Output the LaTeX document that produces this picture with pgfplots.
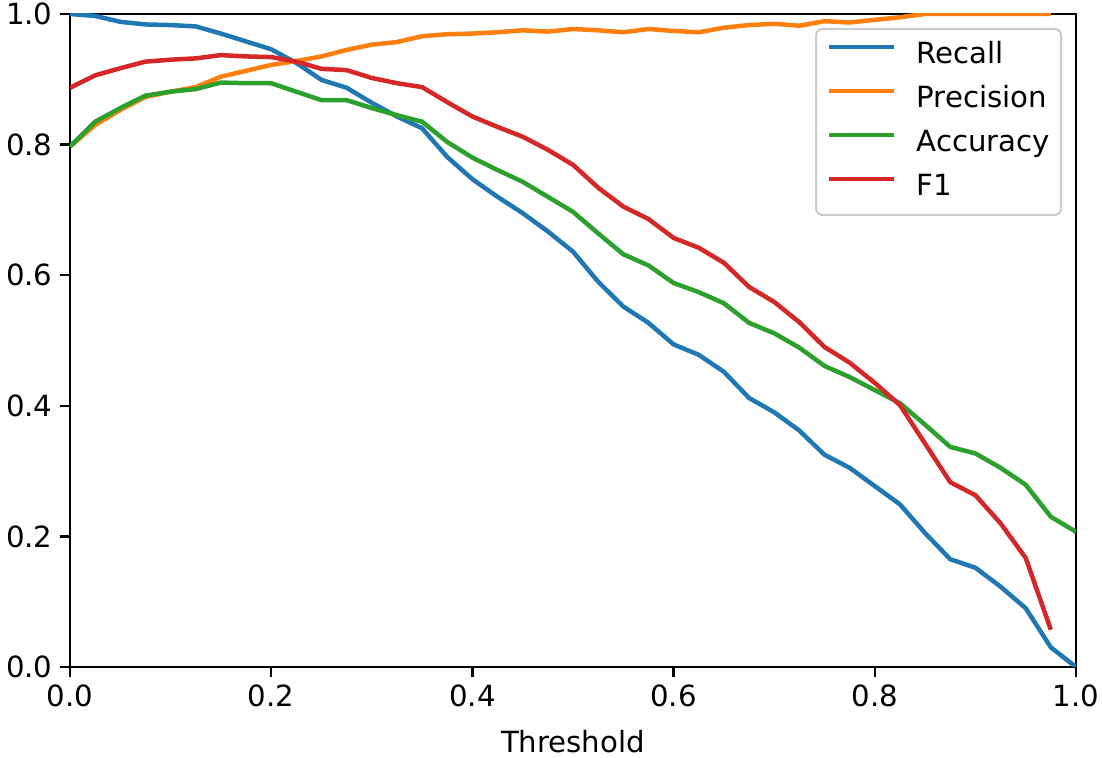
\documentclass[border=0pt]{standalone}
\usepackage{fontspec}
\setmainfont{DejaVu Sans}
\usepackage{pgfplots}
\pgfplotsset{compat=1.18}
\definecolor{tabblue}{HTML}{1F77B4}
\definecolor{taborange}{HTML}{FF7F0E}
\definecolor{tabgreen}{HTML}{2CA02C}
\definecolor{tabred}{HTML}{D62728}
\newcommand{\fs}{\fontsize{14.6}{17.5}\selectfont}
\begin{document}
\begin{tikzpicture}
\begin{axis}[
  scale only axis,
  width=503pt, height=326.5pt,
  xmin=0, xmax=1, ymin=0, ymax=1,
  xtick={0,0.2,0.4,0.6,0.8,1.0},
  ytick={0,0.2,0.4,0.6,0.8,1.0},
  /pgf/number format/assume math mode=true,
  xticklabel style={/pgf/number format/fixed,/pgf/number format/fixed zerofill,/pgf/number format/precision=1},
  yticklabel style={/pgf/number format/fixed,/pgf/number format/fixed zerofill,/pgf/number format/precision=1},
  tick label style={font=\fs},
  label style={font=\fs},
  tick align=outside, tick pos=left,
  major tick length=5.2pt,
  every tick/.style={black, line width=1.2pt},
  axis line style={line width=1.2pt},
  xlabel={Threshold},
  xlabel style={at={(axis description cs:0.5,0)}, anchor=base, yshift=-43pt},
  legend style={at={(rel axis cs:1,1)}, anchor=north east, xshift=-7pt, yshift=-7pt,
    draw=black!20, line width=1pt, rounded corners=3pt, fill=white, fill opacity=0.8, text opacity=1,
    font=\fs, row sep=8pt, column sep=10pt, inner xsep=5.5pt, inner ysep=6.5pt,
    nodes={inner sep=0pt, text height=11pt, text depth=3pt}},
  legend cell align=left,
  legend image code/.code={\draw[#1, line width=2.25pt] (0pt,4.5pt) -- (32.5pt,4.5pt);},
  every axis plot/.append style={line width=2.25pt, line join=round},
]
\path (rel axis cs:0,0) coordinate (SW) (rel axis cs:1,1) coordinate (NE);
\addplot[tabblue] coordinates {
(0,1.000)(0.025,0.997)(0.05,0.988)(0.075,0.984)(0.1,0.983)(0.125,0.981)(0.15,0.970)(0.175,0.958)(0.2,0.946)(0.225,0.925)
(0.25,0.899)(0.275,0.887)(0.3,0.864)(0.325,0.843)(0.35,0.825)(0.375,0.781)(0.4,0.747)(0.425,0.720)(0.45,0.695)(0.475,0.667)
(0.5,0.636)(0.525,0.590)(0.55,0.552)(0.575,0.527)(0.6,0.494)(0.625,0.478)(0.65,0.452)(0.675,0.412)(0.7,0.390)(0.725,0.362)
(0.75,0.325)(0.775,0.305)(0.8,0.277)(0.825,0.249)(0.85,0.205)(0.875,0.165)(0.9,0.152)(0.925,0.123)(0.95,0.090)(0.975,0.030)(1.0,0.000)};
\addlegendentry{Recall}
\addplot[taborange] coordinates {
(0,0.797)(0.025,0.830)(0.05,0.853)(0.075,0.873)(0.1,0.881)(0.125,0.888)(0.15,0.904)(0.175,0.913)(0.2,0.922)(0.225,0.928)
(0.25,0.935)(0.275,0.945)(0.3,0.953)(0.325,0.957)(0.35,0.966)(0.375,0.969)(0.4,0.970)(0.425,0.972)(0.45,0.975)(0.475,0.973)
(0.5,0.977)(0.525,0.975)(0.55,0.972)(0.575,0.977)(0.6,0.974)(0.625,0.972)(0.65,0.979)(0.675,0.983)(0.7,0.985)(0.725,0.982)
(0.75,0.989)(0.775,0.987)(0.8,0.991)(0.825,0.995)(0.85,1.0)(0.875,1.0)(0.9,1.0)(0.925,1.0)(0.95,1.0)(0.975,1.0)};
\addlegendentry{Precision}
\addplot[tabgreen] coordinates {
(0,0.797)(0.025,0.835)(0.05,0.856)(0.075,0.875)(0.1,0.881)(0.125,0.885)(0.15,0.895)(0.175,0.894)(0.2,0.894)(0.225,0.881)
(0.25,0.868)(0.275,0.868)(0.3,0.856)(0.325,0.845)(0.35,0.835)(0.375,0.804)(0.4,0.780)(0.425,0.761)(0.45,0.743)(0.475,0.720)
(0.5,0.697)(0.525,0.664)(0.55,0.632)(0.575,0.615)(0.6,0.588)(0.625,0.574)(0.65,0.557)(0.675,0.527)(0.7,0.511)(0.725,0.489)
(0.75,0.461)(0.775,0.444)(0.8,0.424)(0.825,0.404)(0.85,0.371)(0.875,0.337)(0.9,0.327)(0.925,0.305)(0.95,0.279)(0.975,0.230)(1.0,0.207)};
\addlegendentry{Accuracy}
\addplot[tabred] coordinates {
(0,0.887)(0.025,0.906)(0.05,0.917)(0.075,0.927)(0.1,0.930)(0.125,0.932)(0.15,0.937)(0.175,0.935)(0.2,0.934)(0.225,0.927)
(0.25,0.916)(0.275,0.914)(0.3,0.902)(0.325,0.894)(0.35,0.888)(0.375,0.865)(0.4,0.843)(0.425,0.827)(0.45,0.812)(0.475,0.792)
(0.5,0.769)(0.525,0.734)(0.55,0.705)(0.575,0.686)(0.6,0.657)(0.625,0.642)(0.65,0.619)(0.675,0.582)(0.7,0.559)(0.725,0.528)
(0.75,0.490)(0.775,0.466)(0.8,0.435)(0.825,0.401)(0.85,0.342)(0.875,0.283)(0.9,0.263)(0.925,0.220)(0.95,0.167)(0.975,0.057)};
\addlegendentry{F1}
\end{axis}
\pgfresetboundingbox
\useasboundingbox ([xshift=-35pt,yshift=-45.5pt]SW) rectangle ([xshift=13pt,yshift=7pt]NE);
\end{tikzpicture}
\end{document}
